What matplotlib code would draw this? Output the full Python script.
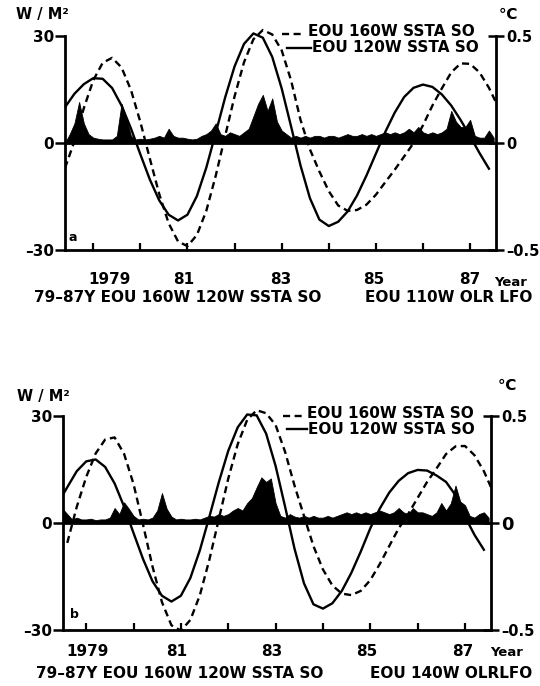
import numpy as np
import matplotlib
matplotlib.use("Agg")
import matplotlib.pyplot as plt
from matplotlib.lines import Line2D

plt.rcParams['font.family'] = ['DejaVu Sans']
plt.rcParams['font.weight'] = 'bold'

# ---------------- data ----------------
# SSTA curves (deg C), sampled every 0.2 yr from 1978.4 to 1987.6
curve_years = np.round(np.arange(1978.4, 1987.61, 0.2), 1)
nan = np.nan
sst160_a = [-0.117, 0.008, 0.163, 0.293, 0.375, 0.398, 0.353, 0.248, 0.098, -0.072,
            -0.238, -0.375, -0.46, -0.482, -0.43, -0.317, -0.153, 0.033, 0.218, 0.377,
            0.485, 0.528, 0.507, 0.433, 0.292, 0.108, -0.03, -0.133, -0.225, -0.292,
            -0.317, -0.313, -0.288, -0.242, -0.183, -0.125, -0.063, 0.0, 0.083, 0.175,
            0.255, 0.33, 0.372, 0.37, 0.33, 0.258, 0.167]
sst120_a = [0.167, 0.230, 0.275, 0.303, 0.300, 0.257, 0.175, 0.068, -0.053, -0.170,
            -0.268, -0.335, -0.362, -0.335, -0.248, -0.115, 0.047, 0.213, 0.358, 0.463,
            0.512, 0.492, 0.402, 0.255, 0.077, -0.105, -0.258, -0.358, -0.388, -0.368,
            -0.320, -0.245, -0.152, -0.050, 0.052, 0.142, 0.215, 0.258, 0.273, 0.262,
            0.227, 0.175, 0.107, 0.032, -0.047, -0.120, nan]
sst160_b = [nan, -0.093, 0.075, 0.215, 0.325, 0.39, 0.40, 0.323, 0.182, -0.007,
            -0.203, -0.37, -0.478, -0.503, -0.453, -0.338, -0.173, 0.017, 0.207, 0.368,
            0.482, 0.527, 0.513, 0.458, 0.333, 0.175, 0.033, -0.108, -0.217, -0.292,
            -0.33, -0.337, -0.317, -0.267, -0.192, -0.108, -0.025, 0.042, 0.117, 0.192,
            0.255, 0.322, 0.358, 0.36, 0.317, 0.242, 0.142]
sst120_b = [0.092, 0.167, 0.242, 0.288, 0.297, 0.262, 0.185, 0.077, -0.047, -0.168,
            -0.272, -0.34, -0.367, -0.34, -0.257, -0.128, 0.028, 0.19, 0.337, 0.447,
            0.507, 0.503, 0.418, 0.267, 0.077, -0.12, -0.282, -0.38, -0.4, -0.375,
            -0.317, -0.233, -0.133, -0.025, 0.067, 0.142, 0.197, 0.233, 0.248, 0.245,
            0.222, 0.192, 0.13, 0.03, -0.055, -0.125, nan]

# OLR low-frequency oscillation (W/m^2), every 0.1 yr from 1978.4 to 1987.5
olr_years = np.round(np.arange(1978.4, 1987.51, 0.1), 1)
olr_a = [0, 2.5, 5.5, 11.5, 5.5, 2.5, 1.5, 1.2, 1.0, 1.0,
         1.0, 2.0, 11.0, 7.0, 2.0, 1.0, 1.2, 1.0, 1.2, 1.5,
         2.0, 1.5, 4.0, 2.0, 1.5, 1.5, 1.2, 1.0, 1.2, 2.0,
         2.5, 3.5, 5.5, 2.5, 2.0, 3.0, 2.5, 2.0, 3.0, 4.0,
         7.5, 11.0, 13.5, 9.0, 12.5, 6.0, 3.5, 2.5, 1.5, 2.0,
         1.5, 2.0, 1.5, 2.0, 2.0, 1.5, 2.0, 2.0, 1.5, 2.0,
         2.5, 2.0, 2.0, 2.5, 2.0, 2.5, 2.0, 2.5, 3.0, 2.5,
         3.0, 2.5, 3.0, 4.0, 3.0, 4.5, 3.0, 2.5, 3.0, 2.5,
         3.0, 4.0, 9.0, 6.0, 4.5, 4.5, 6.5, 2.0, 1.5, 1.5,
         3.5, 1.5]
olr_b = [0, 4.0, 2.5, 1.0, 1.5, 1.0, 1.0, 1.2, 0.8, 1.0,
         1.0, 1.5, 4.2, 2.5, 5.8, 4.0, 2.0, 1.0, 1.2, 1.0,
         1.5, 3.5, 8.4, 4.0, 1.8, 1.0, 1.2, 1.0, 1.0, 1.2,
         1.0, 1.5, 2.0, 1.8, 2.5, 2.0, 2.5, 3.5, 4.2, 3.5,
         5.6, 7.0, 10.0, 12.8, 11.5, 12.5, 5.6, 2.0, 1.5, 2.5,
         1.8, 1.5, 2.0, 1.5, 2.0, 1.5, 1.5, 2.0, 1.5, 2.0,
         2.5, 3.0, 2.5, 3.0, 2.5, 3.0, 2.5, 3.0, 3.5, 3.0,
         2.5, 3.0, 4.2, 3.0, 2.5, 4.2, 3.0, 3.0, 2.5, 2.0,
         3.0, 5.6, 3.5, 5.5, 10.5, 6.0, 5.0, 2.0, 1.5, 2.5,
         3.0, 1.5]

tick_years = [1979, 1980, 1981, 1982, 1983, 1984, 1985, 1986, 1987]
year_labels = ["1979", "81", "83", "85", "87"]
left_ticks = [-30, 0, 30]
left_labels = ["\u201330", "0", "30"]
right_ticks = [-0.5, 0, 0.5]
right_labels = ["\u20130.5", "0", "0.5"]
legend_labels = ["EOU 160W SSTA SO", "EOU 120W SSTA SO"]
caption_left = "79\u201387Y EOU 160W 120W SSTA SO"
caption_right_a = "EOU 110W OLR LFO"
caption_right_b = "EOU 140W OLRLFO"

# ---------------- figure ----------------
W, H = 540, 686
fig = plt.figure(figsize=(W / 100, H / 100), dpi=100)


def P(x, y):
    return (x / W, 1 - y / H)


LW = 1.7
DASH = (3.0, 1.9)
FS = 11
YTOP = 34  # headroom above the 30 tick so curve peaks are not clipped


def panel(x0px, y0px, y30px, x1px, xlim, olr, s160, s120, letter, lab_x, lab_y,
          cap_right, px, zero_fs):
    per = (y0px - y30px) / 60.0
    top_px = y0px - per * (YTOP + 30)
    rect = [x0px / W, 1 - y0px / H, (x1px - x0px) / W, (y0px - top_px) / H]
    ax = fig.add_axes(rect)
    ax2 = ax.twinx()
    ax.set_xlim(*xlim)
    ax.set_ylim(-30, YTOP)
    ax2.set_ylim(-0.5, YTOP / 60.0)

    ax.fill_between(olr_years, 0, olr, color='black', linewidth=0.6,
                    edgecolor='black')
    ax.axhline(0, color='black', lw=2.0)

    ax2.plot(curve_years, s160, color='black', lw=LW, dashes=DASH)
    ax2.plot(curve_years, s120, color='black', lw=LW)

    for a in (ax, ax2):
        a.spines['top'].set_visible(False)
    ax.spines['right'].set_visible(False)
    ax2.spines['left'].set_visible(False)
    ax2.spines['bottom'].set_visible(False)
    for s in ('left', 'bottom'):
        ax.spines[s].set_linewidth(2.0)
    ax2.spines['right'].set_linewidth(2.0)
    ax.spines['left'].set_bounds(-30, 30)
    ax2.spines['right'].set_bounds(-0.5, 0.5)

    ax.set_xticks(tick_years)
    ax.tick_params(axis='x', direction='in', length=5, width=1.6,
                   labelbottom=False)
    ax.set_yticks(left_ticks)
    ax.set_yticklabels(left_labels, fontsize=FS, fontweight='bold')
    ax.tick_params(axis='y', direction='out', length=7, width=1.8, pad=1)
    ax2.set_yticks(right_ticks)
    ax2.set_yticklabels(right_labels, fontsize=10.5, fontweight='bold')
    ax2.tick_params(axis='y', direction='inout', length=11, width=1.8, pad=2)
    ax2.get_yticklabels()[1].set_fontsize(zero_fs)

    fig.text(*P(*px['letter']), letter, fontsize=9,
             fontweight='bold', ha='center', va='center')
    fig.text(*P(*px['unit']), "W / M\u00b2", fontsize=10.5, fontweight='bold',
             ha='center', va='center')
    fig.text(*P(*px['degc']), "\u2103", fontsize=11, fontweight='bold',
             ha='center', va='center')
    (xa, xb, yl1), (xc, xd, yl2) = px['leg_lines']
    fig.add_artist(Line2D([xa / W, xb / W], [1 - yl1 / H] * 2, color='black',
                          lw=LW, dashes=DASH))
    fig.add_artist(Line2D([xc / W, xd / W], [1 - yl2 / H] * 2, color='black',
                          lw=LW))
    (tx1, ty1), (tx2, ty2) = px['leg_text']
    fig.text(*P(tx1, ty1), legend_labels[0], fontsize=FS, fontweight='bold',
             ha='left', va='center')
    fig.text(*P(tx2, ty2), legend_labels[1], fontsize=FS, fontweight='bold',
             ha='left', va='center')
    for lx, lab in zip(lab_x, year_labels):
        fig.text(*P(lx, lab_y), lab, fontsize=FS, fontweight='bold',
                 ha='center', va='center')
    fig.text(*P(*px['year']), "Year", fontsize=9.5, fontweight='bold',
             ha='center', va='center')
    fig.text(*P(px['cap'][0], px['cap'][2]), caption_left, fontsize=FS,
             fontweight='bold', ha='left', va='center')
    fig.text(*P(px['cap'][1], px['cap'][2]), cap_right, fontsize=FS,
             fontweight='bold', ha='right', va='center')
    return ax, ax2


# panel a
panel(65, 250, 36, 496, (1978.40, 1987.55),
      olr_a, sst160_a, sst120_a, "a",
      [110, 184, 281, 374, 470], 280, caption_right_a,
      dict(letter=(73, 238), unit=(42, 15), degc=(508, 14),
           leg_lines=((282, 305, 34), (287, 311, 48)),
           leg_text=((308, 32), (312, 48)),
           year=(511, 283), cap=(34, 532, 298)), 10.5)

# panel b
panel(63, 630, 416, 491, (1978.51, 1987.55),
      olr_b, sst160_b, sst120_b, "b",
      [87, 177, 272, 367, 463], 651, caption_right_b,
      dict(letter=(74, 614), unit=(43, 397), degc=(507, 385),
           leg_lines=((283, 305, 416), (287, 307, 429)),
           leg_text=((307, 413), (308, 430)),
           year=(507, 653), cap=(36, 532, 673)), 13)

fig.savefig("out.png", dpi=100)
